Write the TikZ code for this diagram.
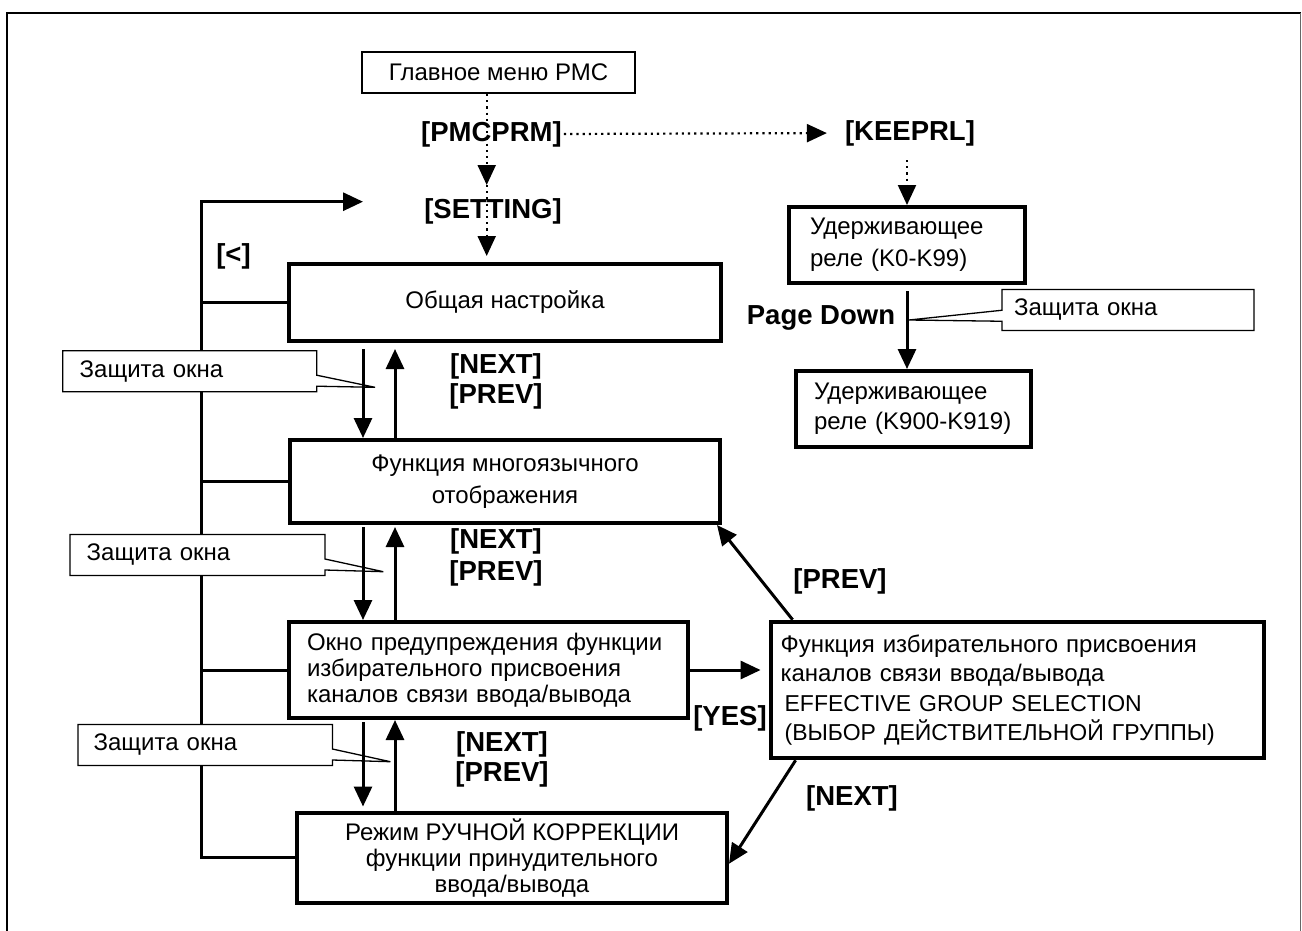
\documentclass[tikz,border=0pt]{standalone}
\usepackage{fontspec}
\setmainfont{Liberation Sans}
\usetikzlibrary{arrows.meta,backgrounds,shapes.callouts}
\begin{document}
\begin{tikzpicture}[x=1pt,y=-1pt,
  nrm/.style={font=\fontsize{24}{26}\selectfont},
  lbl/.style={font=\fontsize{27.5}{30}\selectfont\bfseries, inner sep=0pt},
  bigbox/.style={draw, line width=4pt, fill=white, inner sep=0pt, nrm},
  conn/.style={line width=3pt},
  tri/.style={-{Triangle[length=20pt,width=18pt]}},
  dotl/.style={line width=2.2pt, dash pattern=on 2.2pt off 4pt},
  note/.style={rectangle callout, draw, line width=1.3pt, fill=white, nrm,
    align=left, minimum height=41pt, callout pointer width=11pt}
]
\useasboundingbox (0,0) rectangle (1302,930);
\fill[white] (0,0) rectangle (1302,930);
% frame
\draw[line width=2.2pt] (7,940) -- (7,13) -- (1301,13);
\draw[line width=1pt, black!60] (1300.5,13) -- (1300.5,940);

% helper coordinates
\coordinate (cA) at (363,0);
\coordinate (cB) at (395,0);
\coordinate (cC) at (628,0);
\coordinate (cD) at (673,0);
\coordinate (cL) at (201,0);
\coordinate (cP) at (486.7,0);
\coordinate (lt) at (363,201.7);
\coordinate (a1) at (486.7,185);

% boxes
\node[bigbox, line width=2pt, minimum width=273pt, minimum height=41pt] (menu) at (498.5,72.5) {Главное меню РМС};
\node[bigbox, minimum width=432pt, minimum height=77pt] (obsh) at (505,302.5) {Общая настройка};
\node[bigbox, minimum width=430pt, minimum height=83pt, align=center, font=\fontsize{24}{32}\selectfont] (funk) at (505,481.5) {Функция многоязычного\\отображения};
\node[bigbox, minimum height=96pt, text width=362.5pt, inner xsep=18pt, align=left] (okno) at (488.25,670) {Окно предупреждения функции\\избирательного присвоения\\каналов связи ввода/вывода};
\node[bigbox, minimum width=430pt, minimum height=90.5pt, align=center] (bot) at (512,857.75) {Режим РУЧНОЙ КОРРЕКЦИИ\\функции принудительного\\ввода/вывода};
\node[bigbox, minimum height=136.6pt, text width=473.4pt, inner xsep=10pt, align=left, font=\fontsize{24}{29.3}\selectfont] (rbox) at (1017.3,690) {\mbox{Функция избирательного присвоения}\\\mbox{каналов связи ввода/вывода}\\{\fontsize{23}{29.3}\selectfont\hspace*{4pt}\mbox{EFFECTIVE GROUP SELECTION}}\\{\fontsize{23}{29.3}\selectfont\hspace*{4pt}\mbox{(ВЫБОР ДЕЙСТВИТЕЛЬНОЙ ГРУППЫ)}}};
\node[bigbox, minimum height=76pt, text width=194pt, inner xsep=21pt, align=left, font=\fontsize{24}{32}\selectfont] (k0) at (907,245) {\mbox{Удерживающее}\\\mbox{реле (K0-K99)}};
\node[bigbox, minimum height=76pt, text width=199pt, inner xsep=18pt, align=left, font=\fontsize{24}{30}\selectfont] (k900) at (913.5,409) {\mbox{Удерживающее}\\\mbox{реле (K900-K919)}};

% labels
\node[lbl] (pmcprm) at (491.5,134) {[PMCPRM]};
\node[lbl] (setting) at (493,211) {[SETTING]};
\node[lbl] (keeprl) at (910,133) {[KEEPRL]};
\node[lbl] (back) at (233.5,256) {[<]};
\node[lbl] (pgdn) at (821,318) {Page Down};
\node[lbl] (nx1) at (496,366.7) {[NEXT]};
\node[lbl] (pv1) at (496,396.7) {[PREV]};
\node[lbl] (nx2) at (496,541.5) {[NEXT]};
\node[lbl] (pv2) at (496,573.5) {[PREV]};
\node[lbl] (nx3) at (502,744) {[NEXT]};
\node[lbl] (pv3) at (502,774) {[PREV]};
\node[lbl] (prevR) at (840,581.7) {[PREV]};
\node[lbl] (yes) at (730,718.3) {[YES]};
\node[lbl] (nextR) at (852,798) {[NEXT]};

% left loop (under the callouts)
\draw[conn,tri] (bot.west) -- (bot.west -| cL) -- (cL |- lt) -- (lt);
\draw[conn] (cL |- obsh.west) -- (obsh.west);
\draw[conn] (cL |- funk.west) -- (funk.west);
\draw[conn] (cL |- okno.west) -- (okno.west);

% callouts
\node[note, minimum width=254pt, text width=220pt, inner xsep=17pt, callout absolute pointer={(375,387.3)}] (c1) at (189.7,371.2) {Защита окна};
\node[note, minimum width=255pt, text width=221.6pt, inner xsep=16.7pt, callout absolute pointer={(383.3,571.7)}] (c2) at (197.5,555) {Защита окна};
\node[note, minimum width=254.4pt, text width=223.2pt, inner xsep=15.6pt, callout absolute pointer={(390.4,761.7)}] (c3) at (205.2,745) {Защита окна};

% dotted connectors
\draw[dotl,tri] (menu.south -| cP) -- (a1);
\draw[dotl,tri,shorten >=6pt] (a1) -- (obsh.north -| cP);
\draw[dotl,tri,shorten <=2pt,shorten >=18pt] (pmcprm.east) -- (keeprl.west);
\draw[dotl,tri,shorten <=14pt] (keeprl.south -| k0.north) -- (k0.north);

% keep relay page down
\draw[conn,tri,shorten <=6pt] (k0.south) -- (k0.south |- k900.north);
\node[note, minimum width=252pt, text width=228pt, inner xsep=12pt, callout absolute pointer={(909,320)}] (c4) at (1128,310) {Защита окна};

% between boxes
\draw[conn,tri,shorten <=6pt] (obsh.south -| cA) -- (funk.north -| cA);
\draw[conn,tri,shorten >=6pt] (funk.north -| cB) -- (obsh.south -| cB);
\draw[conn,tri,shorten <=2pt] (funk.south -| cA) -- (okno.north -| cA);
\draw[conn,tri,shorten >=2pt] (okno.north -| cB) -- (funk.south -| cB);
\draw[conn,tri,shorten <=2pt,shorten >=4pt] (okno.south -| cA) -- (bot.north -| cA);
\draw[conn,tri] (bot.north -| cB) -- (okno.south -| cB);

% long right columns behind the boxes
\begin{scope}[on background layer]
\draw[conn,tri,shorten <=6pt] (obsh.south -| cC) -- (bot.north -| cC);
\draw[conn,tri] (bot.north -| cD) -- (obsh.south -| cD);
\end{scope}

% to and from the right box
\draw[conn,tri,shorten >=8pt] (okno.east) -- (okno.east -| rbox.west);
\draw[conn,tri] ([xshift=24pt]rbox.north west) -- ([xshift=-5pt]funk.south east);
\draw[conn,tri] ([xshift=27pt]rbox.south west) -- ([yshift=-6pt]bot.east);
\end{tikzpicture}
\end{document}
